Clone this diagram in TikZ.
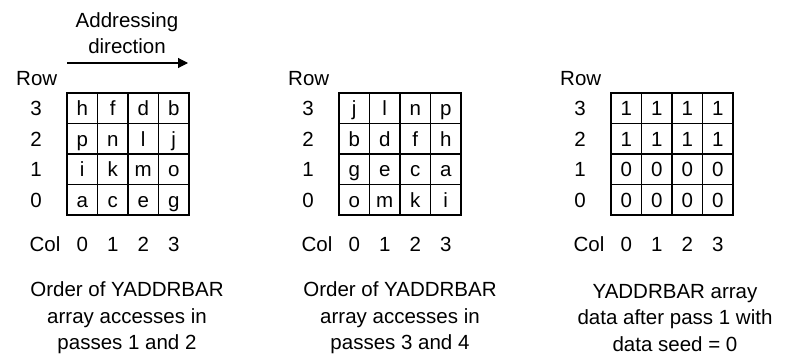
\documentclass[tikz,border=0pt]{standalone}
\usepackage{fontspec}
\setmainfont{Liberation Sans}
\usetikzlibrary{arrows.meta}
\begin{document}
\begin{tikzpicture}[x=1pt,y=-1pt,font=\fontsize{20.5}{26.5}\selectfont,
  cell/.style={draw,line width=1.1pt,minimum size=30.5pt,inner sep=0pt,text height=14.7pt,text depth=0pt},
  lbl/.style={inner sep=0pt,text height=14.7pt,text depth=0pt},
  caption/.style={align=center,inner sep=0pt}]
\useasboundingbox (0,0) rectangle (788,356);
% addressing direction
\node[caption,font=\fontsize{20.5}{26}\selectfont] (dirtxt) at (127,33) {Addressing\\direction};
\coordinate (arrS) at (67,63);
\coordinate (arrE) at (188,63);
\draw[line width=1.1pt,-{Triangle[length=10pt,width=10pt]}] (arrS) -- (arrE);
% the three arrays
\foreach \g/\L/\cells in {a/67/{h,f,d,b,p,n,l,j,i,k,m,o,a,c,e,g},
                          b/339/{j,l,n,p,b,d,f,h,g,e,c,a,o,m,k,i},
                          c/611/{1,1,1,1,1,1,1,1,0,0,0,0,0,0,0,0}}{
  \node[lbl,anchor=west] (row\g) at (\L-51,78) {Row};
  \node[lbl] (col\g) at (\L-22,244) {Col};
  \foreach \t [count=\i from 0] in \cells {
    \pgfmathtruncatemacro{\cc}{mod(\i,4)}
    \pgfmathtruncatemacro{\rr}{int(\i/4)}
    \node[cell] (\g-\cc-\rr) at (\L+15.25+30.5*\cc,93+15.25+30.5*\rr) {\t};
  }
  \foreach \k in {0,...,3}{
    \pgfmathtruncatemacro{\rn}{3-\k}
    \node[lbl] (rn\g\k) at (\L-31,108.25+30.5*\k) {\rn};
    \node[lbl] (cn\g\k) at (\L+15.25+30.5*\k,244) {\k};
  }
}
% captions
\node[caption] (capa) at (127,318) {Order of YADDRBAR\\array accesses in\\passes 1 and 2};
\node[caption] (capb) at (400,318) {Order of YADDRBAR\\array accesses in\\passes 3 and 4};
\node[caption] (capc) at (675,318) {YADDRBAR array\\data after pass 1 with\\data seed = 0};
\end{tikzpicture}
\end{document}
